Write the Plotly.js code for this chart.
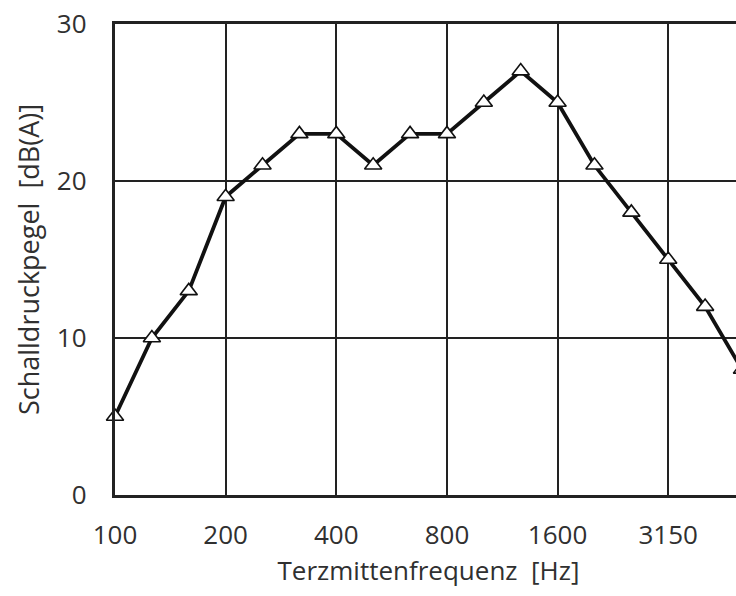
<!DOCTYPE html>
<html>
<head>
<meta charset="utf-8">
<script src="https://cdn.plot.ly/plotly-3.0.1.min.js"></script>
<style>
html,body{margin:0;padding:0;overflow:hidden;background:#fff;width:736px;height:596px;}
#chart{width:760px;height:596px;}
</style>
</head>
<body>
<div id="chart"></div>
<script>
var frequencies = ["100","125","160","200","250","315","400","500","630","800","1000","1250","1600","2000","2500","3150","4000","5000"];
var levels = [5, 10, 13, 19, 21, 23, 23, 21, 23, 23, 25, 27, 25, 21, 18, 15, 12, 8];
var xTickLabels = ["100","200","400","800","1600","3150"];
var yTickValues = [0, 10, 20, 30];

var xIdx = frequencies.map(function(_, i){ return i; });
var xTickVals = xTickLabels.map(function(l){ return frequencies.indexOf(l); });

var trace = {
  x: xIdx,
  y: levels,
  text: frequencies,
  type: 'scatter',
  mode: 'lines+markers',
  line: {color: '#111', width: 3.8},
  marker: {symbol: 'triangle-up', size: 15, color: '#fff', line: {color: '#111', width: 1.6}},
  cliponaxis: false,
  hoverinfo: 'text+y'
};

var fontFam = '"Open Sans", "Noto Sans", sans-serif';
var txtCol = '#303030';
var layout = {
  width: 760,
  height: 596,
  margin: {l: 115, r: 18, t: 24, b: 101},
  paper_bgcolor: '#fff',
  plot_bgcolor: '#fff',
  showlegend: false,
  font: {family: fontFam, color: txtCol, size: 26},
  xaxis: {
    range: [0, 17],
    tickmode: 'array',
    tickvals: xTickVals,
    ticktext: xTickLabels,
    ticks: '',
    ticklabelstandoff: 15,
    showgrid: true,
    gridcolor: '#222',
    gridwidth: 2,
    zeroline: false,
    showline: true,
    linecolor: '#222',
    linewidth: 3.2,
    mirror: true,
    tickfont: {size: 26, color: txtCol},
    title: {text: 'Terzmittenfrequenz  [Hz]', font: {size: 26, color: txtCol}, standoff: 7}
  },
  yaxis: {
    range: [0, 30],
    tickmode: 'array',
    tickvals: yTickValues,
    ticks: '',
    ticklabelstandoff: 20,
    showgrid: true,
    gridcolor: '#222',
    gridwidth: 2,
    zeroline: false,
    showline: true,
    linecolor: '#222',
    linewidth: 3.2,
    mirror: true,
    tickfont: {size: 26, color: txtCol},
    title: {text: 'Schalldruckpegel  [dB(A)]', font: {size: 27, color: txtCol}, standoff: 10}
  }
};

Plotly.newPlot('chart', [trace], layout, {displayModeBar: false, staticPlot: true});
</script>
</body>
</html>
